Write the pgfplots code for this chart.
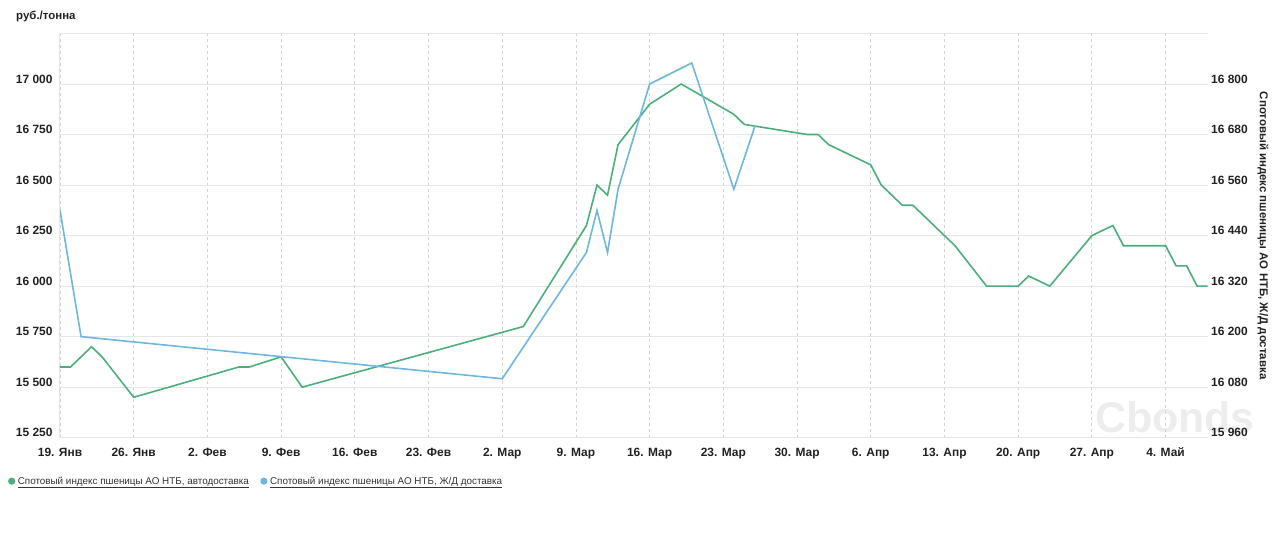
\documentclass[border=0pt]{standalone}
\usepackage{fontspec}
\setmainfont{Liberation Sans}
\usepackage{pgfplots}
\usepackage{pgfplotstable}
\pgfplotsset{compat=1.18}
\definecolor{grn}{HTML}{4BAE7B}
\definecolor{blu}{HTML}{6DB6DE}
\definecolor{gridc}{HTML}{E6E6E6}
\definecolor{vgrid}{HTML}{D2D2D2}
\definecolor{txt}{HTML}{222222}
\definecolor{legtxt}{HTML}{333333}
\definecolor{wm}{HTML}{EDEDED}

% day 0 = 19 Jan
\pgfplotstableread{
d v
0 15600
1 15600
3 15700
4 15650
7 15450
17 15600
18 15600
21 15650
23 15500
44 15800
50 16300
51 16500
52 16450
53 16700
56 16900
59 17000
64 16850
65 16800
71 16750
72 16750
73 16700
77 16600
78 16500
80 16400
81 16400
85 16200
88 16000
91 16000
92 16050
94 16000
98 16250
100 16300
101 16200
105 16200
106 16100
107 16100
108 16000
109 16000
}\auto

\pgfplotstableread{
d v
0 16500
2 16200
42 16100
50 16400
51 16500
52 16400
53 16550
56 16800
60 16850
64 16550
66 16700
}\rail

\begin{document}
\begin{tikzpicture}
\useasboundingbox (-60bp,-104.3bp) rectangle (1220bp,437.7bp);
\node[anchor=base west, text=wm, font=\bfseries\fontsize{43}{43}\selectfont, inner sep=0pt] at (1035bp,5.5bp) {Cbonds};
\node[anchor=west, text=txt, font=\bfseries\fontsize{11.5}{13}\selectfont, inner sep=0pt] at (-44bp,421.7bp) {руб./тонна};
\begin{axis}[
  scale only axis, width=1147.7bp, height=404.2bp,
  xmin=0, xmax=109, ymin=15250, ymax=17250,
  scaled y ticks=false, scaled x ticks=false,
  axis x line*=bottom, axis y line*=left,
  axis line style={draw=gridc, line width=1bp, -},
  major tick length=0pt,
  xtick={0,7,...,105},
  xticklabels={19. Янв,26. Янв,2. Фев,9. Фев,16. Фев,23. Фев,2. Мар,9. Мар,16. Мар,23. Мар,30. Мар,6. Апр,13. Апр,20. Апр,27. Апр,4. Май},
  ytick={15250,15500,...,17250},
  yticklabels={15 250,15 500,15 750,16 000,16 250,16 500,16 750,17 000,},
  xticklabel style={font=\bfseries\fontsize{12}{14}\selectfont, text=txt, yshift=-6bp, text height=9bp, text depth=2.5bp},
  yticklabel style={font=\bfseries\fontsize{12}{14}\selectfont, text=txt, yshift=5bp, xshift=-4bp},
  xmajorgrids, ymajorgrids,
  major x grid style={draw=vgrid, line width=0.8bp, dash pattern=on 3bp off 3bp},
  major y grid style={draw=gridc, line width=1bp},
  legend columns=2,
  legend style={at={(axis description cs:-0.0480,-0.1075)}, anchor=west, draw=none, fill=none,
    font=\fontsize{9.9}{12}\selectfont, text=legtxt,
    /tikz/every even column/.append style={column sep=9bp},
    nodes={inner xsep=2.5bp, inner ysep=1bp}},
  legend image code/.code={\fill[#1, draw=none] (3.5bp,0bp) circle (3.6bp);},
  legend cell align=left,
]
\addplot[grn, line width=1.6bp] table[x=d, y=v] {\auto};
\addlegendentry{\underline{Спотовый индекс пшеницы АО НТБ, автодоставка}}
\addlegendimage{blu, line width=1.6bp}
\addlegendentry{\underline{Спотовый индекс пшеницы АО НТБ, Ж/Д доставка}}
\end{axis}
\begin{axis}[
  scale only axis, width=1147.7bp, height=404.2bp,
  xmin=0, xmax=109, ymin=15960, ymax=16920,
  scaled y ticks=false,
  axis x line=none, axis y line*=right,
  axis line style={draw=none},
  major tick length=0pt,
  ytick={15960,16080,...,16800},
  yticklabels={15 960,16 080,16 200,16 320,16 440,16 560,16 680,16 800},
  yticklabel style={font=\bfseries\fontsize{12}{14}\selectfont, text=txt, yshift=5bp},
  ylabel={Спотовый индекс пшеницы АО НТБ, Ж/Д доставка},
  ylabel style={at={(axis description cs:1.0482,0.5)}, anchor=center, rotate=180, font=\bfseries\fontsize{11.5}{13}\selectfont, text=txt},
]
\addplot[blu, line width=1.6bp] table[x=d, y=v] {\rail};
\end{axis}
\end{tikzpicture}
\end{document}
